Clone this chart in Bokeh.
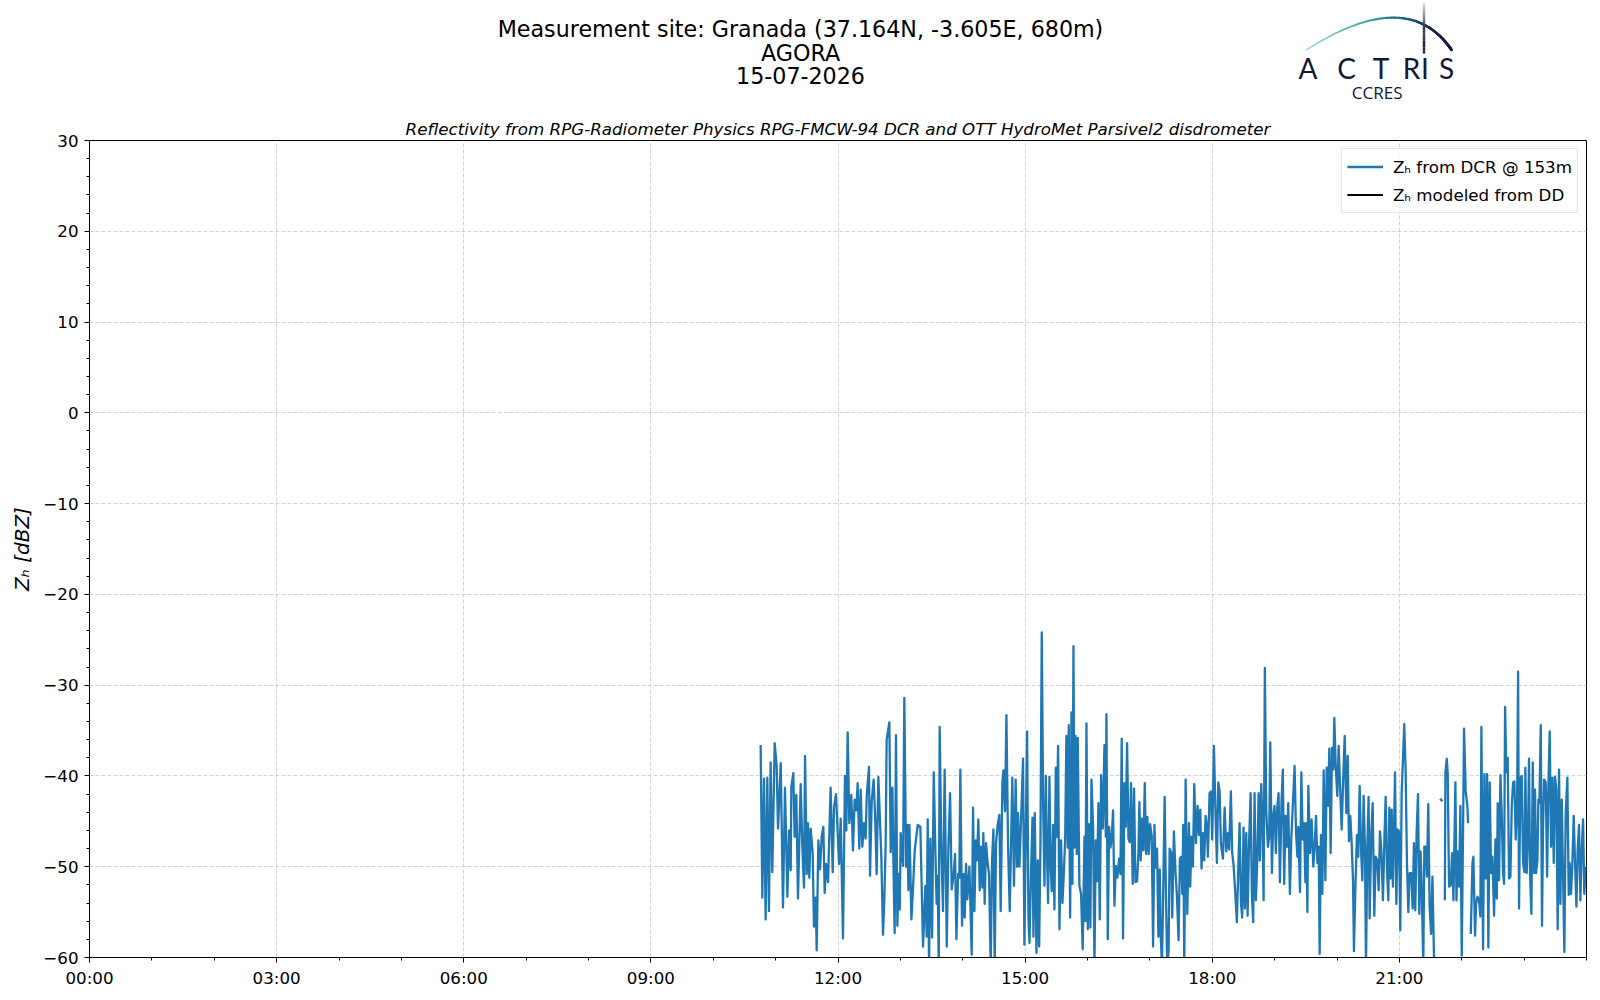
import numpy as np
from bokeh.plotting import figure
from bokeh.models import Range1d, FixedTicker, Legend, LegendItem, ColumnDataSource
from bokeh.layouts import column
from bokeh.embed import file_html
from bokeh.resources import INLINE
from bokeh.core.properties import value

# ---------------- texts ----------------
suptitle_lines = ["Measurement site: Granada (37.164N, -3.605E, 680m)", "AGORA", "15-07-2026"]
subtitle = "Reflectivity from RPG-Radiometer Physics RPG-FMCW-94 DCR and OTT HydroMet Parsivel2 disdrometer"
y_label = "Zₕ [dBZ]"
legend_labels = ["Zₕ from DCR @ 153m", "Zₕ modeled from DD"]
logo_letters = ["A", "C", "T", "R", "I", "S"]
logo_sub = "CCRES"

hour_ticks = [0, 3, 6, 9, 12, 15, 18, 21]
hour_labels = ["00:00", "03:00", "06:00", "09:00", "12:00", "15:00", "18:00", "21:00"]
zh_ticks = [-60, -50, -40, -30, -20, -10, 0, 10, 20, 30]
zh_labels = ["−60", "−50", "−40", "−30", "−20", "−10", "0", "10", "20", "30"]

# ---------------- data (minutes after midnight, dBZ) ----------------
t_1045 = [645.6, 647.2, 648.8, 650.4, 652.0, 653.6, 655.2, 656.8, 659.1, 661.0, 662.3, 664.9, 667.1, 669.0,
          671.3, 672.9, 674.5, 675.1, 677.0, 678.3, 679.9, 681.5, 684.1, 685.7, 687.3, 688.3, 689.9, 691.1,
          692.4, 693.7, 695.6, 696.9, 698.5, 699.5, 701.1, 702.7, 704.3, 705.9, 707.2, 708.5, 710.4, 712.9,
          714.9, 716.2, 718.1, 721.0, 722.6, 724.8, 726.7, 728.0, 729.3, 730.9, 732.8, 734.4, 736.0, 737.6,
          738.9, 740.5, 741.8, 743.4, 745.0, 746.6, 747.6, 749.8, 750.8, 752.4, 754.3, 755.9, 757.2, 758.8,
          760.4, 761.7, 763.3, 764.6, 765.8, 766.8]
zh_1045 = [-36.6, -53.4, -40.3, -55.8, -40.2, -54.9, -38.5, -50.6, -36.4, -38.9, -45.8, -38.6, -54.5, -41.3,
           -53.3, -46.0, -50.4, -41.2, -39.7, -46.7, -42.1, -53.5, -40.9, -47.8, -52.3, -37.8, -50.8, -45.2,
           -51.2, -45.8, -48.4, -56.6, -53.4, -59.2, -47.1, -50.3, -46.7, -45.6, -52.9, -49.7, -51.7, -41.3,
           -50.6, -43.4, -42.0, -49.7, -44.7, -57.9, -40.0, -46.0, -35.2, -45.2, -42.1, -48.2, -42.6, -43.8,
           -40.8, -48.0, -41.5, -47.8, -45.2, -46.9, -42.3, -39.0, -51.0, -42.8, -40.4, -45.1, -50.8, -40.1,
           -44.9, -49.0, -57.5, -53.4, -47.8, -36.0]

t_1249 = [769.4, 770.7, 772.3, 773.3, 774.5, 775.8, 777.1, 778.4, 779.4, 780.3, 781.6, 782.6, 783.8, 785.5,
          786.7, 787.7, 788.7, 790.6, 791.9, 793.8, 796.7, 799.2, 801.8, 804.0, 805.3, 806.3, 807.6, 808.9,
          810.5, 812.1, 813.7, 814.9, 815.9, 816.9, 817.8, 819.4, 821.0, 822.6, 824.6, 826.2, 827.8, 829.4,
          831.3, 832.6, 833.9, 835.5, 836.7, 837.7, 839.3, 840.9, 841.9, 843.2, 844.4, 846.4, 848.6, 849.9,
          851.2, 852.5, 853.7, 855.0, 856.3, 857.6, 858.9, 859.8, 861.1, 862.4, 864.0, 865.3, 866.9, 868.2,
          869.5, 870.7, 872.0, 873.6, 875.2, 876.5, 878.1, 879.1, 880.7, 882.0, 883.6, 885.2, 887.7, 889.3,
          890.9, 892.2, 893.2, 894.5, 896.1, 898.0, 899.3]
zh_1249 = [-34.1, -48.4, -41.3, -49.5, -57.3, -35.5, -56.5, -50.8, -54.7, -46.3, -48.6, -49.9, -31.4, -50.0,
           -45.4, -52.6, -45.4, -55.8, -53.0, -48.2, -45.4, -45.6, -58.8, -52.1, -57.7, -44.8, -61.0, -46.9,
           -57.8, -39.6, -48.4, -54.1, -51.0, -61.0, -34.6, -47.8, -54.9, -39.3, -58.8, -47.8, -41.9, -52.5,
           -50.8, -48.6, -58.0, -50.8, -51.2, -39.3, -56.5, -50.8, -55.6, -49.7, -53.6, -50.0, -59.7, -43.5,
           -54.9, -47.1, -49.3, -44.8, -52.6, -47.8, -52.3, -46.3, -54.1, -47.4, -49.7, -50.8, -61.0, -49.3,
           -45.9, -61.0, -47.4, -45.4, -44.3, -54.9, -40.8, -39.4, -43.9, -33.3, -47.8, -54.9, -40.2, -52.1,
           -40.4, -50.0, -44.1, -50.0, -44.8, -38.1, -58.6]

t_1500 = [900.6, 901.9, 903.2, 904.2, 905.8, 907.1, 908.0, 909.3, 910.9, 912.2, 913.5, 914.7, 916.0, 917.3,
          918.6, 919.9, 920.8, 922.1, 923.4, 924.4, 925.6, 926.9, 928.2, 929.5, 930.4, 931.7, 933.0, 934.6,
          935.9, 937.2, 938.5, 939.7, 941.0, 942.0, 943.3, 944.6, 945.5, 946.5, 947.4, 948.4, 949.7, 950.6,
          952.2, 953.8, 955.4, 957.1, 958.0, 959.0, 960.3, 961.5, 962.8, 963.8, 965.4, 966.7, 967.9, 969.2,
          970.5, 971.8, 973.1, 974.7, 976.3, 977.6, 978.2, 979.5, 980.8, 982.1, 983.3, 984.6, 985.9, 987.2,
          988.8, 990.4, 991.7, 992.9, 994.2, 995.5, 996.8, 998.1, 999.4, 1000.6, 1001.9, 1003.5, 1004.8,
          1006.1, 1007.7, 1009.0, 1009.9, 1011.2, 1012.5, 1013.8, 1015.1, 1016.3, 1017.6, 1018.9, 1020.2,
          1021.8, 1023.1, 1024.4, 1025.6, 1026.9, 1028.2, 1029.5]
zh_1500 = [-46.7, -35.1, -55.6, -58.4, -50.1, -44.6, -57.7, -44.1, -59.5, -49.3, -58.8, -47.9, -24.2, -42.9,
           -52.1, -40.0, -47.1, -54.0, -40.1, -49.3, -52.7, -45.4, -54.7, -39.1, -46.7, -36.7, -56.9, -47.1,
           -54.0, -50.8, -47.1, -35.6, -47.9, -34.4, -55.6, -33.0, -51.9, -25.7, -47.9, -35.6, -48.6, -35.8,
           -52.1, -53.0, -59.1, -46.7, -56.0, -34.2, -56.9, -45.3, -56.7, -40.4, -45.6, -61.0, -47.1, -51.6,
           -43.0, -55.8, -39.9, -45.8, -36.6, -46.7, -33.2, -58.0, -45.6, -47.9, -46.9, -43.8, -54.3, -49.9,
           -51.2, -49.1, -50.8, -35.9, -57.9, -40.8, -45.6, -36.4, -46.9, -47.3, -40.8, -51.9, -41.4,
           -51.7, -51.6, -48.4, -42.9, -49.3, -44.7, -48.2, -40.8, -48.6, -44.5, -48.6, -45.3,
           -46.6, -58.8, -45.4, -50.1, -48.0, -57.7, -50.3]

t_1710 = [1030.3, 1031.6, 1032.6, 1034.2, 1035.4, 1036.7, 1038.0, 1039.0, 1040.6, 1041.5, 1043.1, 1044.7,
          1046.0, 1047.6, 1048.9, 1050.2, 1051.2, 1052.1, 1053.1, 1054.4, 1056.0, 1057.6, 1058.8, 1060.1,
          1061.4, 1062.7, 1064.3, 1065.9, 1067.2, 1068.5, 1069.7, 1071.0, 1072.3, 1073.6, 1074.9, 1075.8,
          1077.4, 1078.7, 1080.0, 1081.6, 1083.2, 1084.5, 1085.8, 1087.1, 1088.3, 1090.3, 1091.9, 1093.5,
          1095.1, 1096.3, 1097.9, 1099.2, 1100.5, 1101.8, 1103.7, 1105.0, 1106.3, 1107.6, 1108.8, 1110.1,
          1111.4, 1112.7, 1114.0, 1115.3, 1116.9, 1118.1, 1119.4, 1120.7, 1122.0, 1123.3, 1124.6, 1125.8,
          1127.1, 1128.4, 1129.4, 1130.6, 1131.9, 1133.5, 1134.8, 1135.8, 1137.4, 1138.7, 1139.9, 1141.2,
          1142.5, 1143.8, 1145.1, 1146.7, 1147.9, 1149.2, 1150.5, 1151.8, 1153.1, 1154.7, 1156.0, 1157.6,
          1159.2]
zh_1710 = [-56.9, -61.0, -54.4, -42.3, -52.6, -61.0, -59.3, -48.0, -48.5, -55.6, -46.1, -50.7,
           -53.1, -58.1, -49.1, -48.9, -53.0, -45.4, -61.0, -40.4, -55.2, -45.2, -52.2, -46.7,
           -50.0, -40.9, -47.4, -43.3, -46.5, -43.7, -50.2, -46.3, -49.3, -44.4, -45.6, -48.9,
           -41.9, -41.7, -47.0, -36.7, -44.4, -49.6, -40.7, -41.7, -47.4, -49.1, -43.5, -48.3,
           -46.3, -48.1, -41.7, -48.5, -49.8, -52.2, -56.1, -50.4, -45.2, -53.9, -55.6, -45.7,
           -54.6, -46.3, -55.4, -47.8, -41.9, -53.0, -56.1, -41.9, -53.7, -49.4, -41.9, -49.3,
           -40.9, -45.6, -53.7, -28.1, -43.7, -47.8, -46.7, -36.3, -50.7, -44.4, -43.3, -48.5,
           -43.5, -41.9, -51.7, -42.6, -39.3, -51.9, -44.4, -47.8, -43.0, -53.0, -47.0, -43.0,
           -38.9]

t_1920 = [1160.6, 1161.9, 1162.8, 1164.4, 1165.7, 1167.0, 1168.3, 1169.6, 1170.5, 1171.5, 1172.4, 1174.0,
          1175.6, 1177.2, 1178.5, 1179.8, 1181.1, 1182.4, 1183.3, 1184.6, 1185.9, 1187.2, 1188.8, 1190.1,
          1191.3, 1192.6, 1193.9, 1195.2, 1196.5, 1197.4, 1198.7, 1200.3, 1201.6, 1203.2, 1204.5, 1205.8,
          1207.4, 1209.0, 1210.3, 1211.5, 1212.8, 1214.1, 1215.4, 1216.3, 1217.6, 1219.2, 1220.5, 1221.8,
          1223.4, 1224.4, 1225.6, 1226.9, 1227.9, 1229.2, 1230.4, 1231.4, 1233.0, 1234.3, 1235.9, 1237.2,
          1238.8, 1240.1, 1241.3, 1242.6, 1244.2, 1245.5, 1246.8, 1248.1, 1249.4, 1250.3, 1251.6, 1252.6,
          1253.8, 1254.8, 1255.8, 1257.1, 1258.3, 1259.6, 1260.9, 1262.2, 1263.5, 1264.7, 1266.0, 1267.3,
          1268.6, 1269.9, 1271.5, 1272.8, 1274.0, 1275.3, 1276.6, 1277.9, 1279.2, 1280.4, 1281.7, 1283.0,
          1284.0, 1285.3, 1286.5, 1287.8, 1289.1, 1290.5, 1291.8, 1293.4]
zh_1920 = [-46.3, -48.9, -45.6, -52.8, -39.6, -47.0, -45.2, -51.7, -45.2, -55.0, -41.1, -48.5,
           -44.8, -50.0, -47.8, -44.4, -49.6, -47.8, -59.6, -46.5, -53.0, -39.4, -51.5, -39.1,
           -43.3, -37.0, -48.5, -36.9, -39.3, -33.6, -38.7, -42.2, -36.7, -41.9, -45.9, -40.9,
           -35.6, -44.1, -37.8, -47.2, -44.4, -47.4, -51.5, -59.3, -52.6, -46.5, -48.9, -41.1,
           -48.9, -51.5, -42.2, -47.8, -61.0, -47.8, -42.3, -55.7, -46.3, -43.0, -55.4, -48.9,
           -49.3, -52.6, -46.1, -48.1, -53.7, -47.4, -42.3, -50.4, -53.7, -43.5, -51.3, -43.7,
           -52.2, -46.5, -39.6, -54.1, -45.9, -46.1, -57.0, -41.9, -38.0, -34.3, -39.3, -49.6,
           -55.0, -50.7, -50.7, -54.6, -47.4, -54.8, -46.3, -42.0, -55.2, -48.3, -53.3, -61.0,
           -47.8, -47.8, -51.1, -43.1, -54.4, -57.4, -51.1, -60.5]

t_2139 = [1299.2, 1301.4]
zh_2139 = [-42.5, -42.8]

t_2143 = [1303.7, 1304.3, 1305.6, 1306.5, 1307.8, 1309.4, 1310.7, 1312.0, 1313.9, 1314.9, 1316.2, 1317.4,
          1318.7, 1320.0, 1321.3, 1322.2, 1323.8, 1325.4, 1326.1]
zh_2143 = [-53.7, -39.6, -38.1, -39.8, -52.2, -52.0, -48.5, -53.7, -40.7, -53.7, -48.3, -52.2,
           -43.3, -59.8, -45.6, -34.8, -41.7, -43.3, -45.2]

t_2208 = [1328.7, 1330.3, 1331.2, 1332.8, 1333.8, 1335.1, 1336.7, 1337.9, 1338.9, 1340.5, 1341.8, 1343.1,
          1344.4, 1345.6, 1346.9, 1348.2, 1349.5, 1351.1, 1352.4, 1353.7, 1354.6, 1355.9, 1357.2, 1358.5,
          1359.7, 1360.7, 1361.7, 1362.9, 1364.2, 1365.5, 1366.8, 1368.1, 1369.4, 1370.6, 1371.9, 1373.2,
          1374.2, 1375.1, 1376.4, 1377.7, 1379.0, 1380.3, 1381.2, 1382.5, 1383.8, 1384.7, 1385.7, 1387.0,
          1388.3, 1389.6, 1390.5, 1391.5, 1392.8, 1393.7, 1394.7, 1396.0, 1397.2, 1398.2, 1399.2, 1400.8,
          1402.1, 1403.3, 1404.6, 1405.9, 1407.2, 1408.5, 1409.7, 1411.0, 1412.3, 1413.6, 1414.9, 1416.2,
          1417.4, 1418.7, 1420.0, 1421.6, 1422.9, 1423.8, 1425.1, 1426.4, 1427.7, 1429.0, 1430.3, 1431.5,
          1432.8, 1434.1, 1435.4, 1436.7, 1437.9, 1439.2]
zh_2208 = [-57.4, -49.6, -48.9, -57.6, -54.1, -53.3, -53.7, -55.5, -34.6, -59.1, -39.8, -51.3,
           -39.8, -58.9, -40.7, -50.7, -48.9, -55.4, -47.0, -53.5, -43.0, -51.5, -39.9, -44.4,
           -50.7, -51.9, -32.4, -39.6, -38.0, -51.3, -51.1, -43.3, -40.7, -40.6, -47.0, -43.5,
           -28.5, -54.6, -40.2, -40.0, -49.6, -50.6, -39.1, -50.7, -46.1, -38.1, -50.7, -55.2,
           -38.5, -50.7, -41.5, -50.7, -49.3, -42.6, -43.0, -34.4, -56.5, -45.6, -40.4, -40.7,
           -51.1, -41.3, -35.1, -47.8, -40.2, -49.6, -40.1, -41.5, -56.9, -39.3, -54.1, -42.6,
           -50.7, -59.4, -44.1, -40.2, -53.1, -49.6, -53.0, -49.6, -44.4, -49.6, -54.4, -48.1,
           -45.4, -53.7, -48.1, -44.8, -53.0, -50.0]

# modeled reflectivity from the disdrometer: no valid value on this day
t_dd = [np.nan]
zh_dd = [np.nan]

# ---------------- assemble (NaN between data gaps) ----------------
segments = [
    (t_1045 + t_1249 + t_1500 + t_1710 + t_1920, zh_1045 + zh_1249 + zh_1500 + zh_1710 + zh_1920),
    (t_2139, zh_2139),
    (t_2143, zh_2143),
    (t_2208, zh_2208),
]
hrs, zh = [], []
for i, (t, z) in enumerate(segments):
    if i > 0:
        hrs.append(np.nan)
        zh.append(np.nan)
    hrs.extend([m / 60.0 for m in t])
    zh.extend(z)
src_dcr = ColumnDataSource(dict(x=np.array(hrs, dtype=float), y=np.array(zh, dtype=float)))
src_dd = ColumnDataSource(dict(x=np.array(t_dd, dtype=float) / 60.0, y=np.array(zh_dd, dtype=float)))

FONT = "DejaVu Sans"
W = 1600
BL, BR = 89, 14          # left / right borders shared by both stacked figures

# ---------------- header (suptitle + logo); data units = page pixels ----------------
HH = 110
hdr = figure(width=W, height=HH, x_range=Range1d(BL, W - BR), y_range=Range1d(HH, 0),
             toolbar_location=None, output_backend="svg",
             min_border_left=BL, min_border_right=BR, min_border_top=0, min_border_bottom=0,
             x_axis_location=None, y_axis_location=None)
hdr.xgrid.visible = False
hdr.ygrid.visible = False
hdr.outline_line_color = None

for line_txt, ypos in zip(suptitle_lines, [28.6, 52.0, 74.5]):
    hdr.text(x=[800], y=[ypos], text=[line_txt], text_font=value(FONT), text_font_size="22.2px",
             text_align="center", text_baseline="middle", text_color="black")

def lerp_color(stops, t):
    ts = [s[0] for s in stops]
    rgb = [tuple(int(s[1][k:k + 2], 16) for k in (1, 3, 5)) for s in stops]
    ch = [np.interp(t, ts, [c[j] for c in rgb]) for j in range(3)]
    return "#%02x%02x%02x" % tuple(int(round(c)) for c in ch)

# logo arc (quadratic bezier, gradient teal -> navy)
P0, P1, P2 = (1306.0, 49.3), (1406.7, -15.0), (1451.0, 49.3)
tt = np.linspace(0, 1, 60)
bx = (1 - tt) ** 2 * P0[0] + 2 * tt * (1 - tt) * P1[0] + tt ** 2 * P2[0]
by = (1 - tt) ** 2 * P0[1] + 2 * tt * (1 - tt) * P1[1] + tt ** 2 * P2[1]
arc_stops = [(0.0, "#8fd4cf"), (0.35, "#3aa0a6"), (0.6, "#1f5f7a"), (0.8, "#18254a"), (1.0, "#14163a")]
tm = (tt[:-1] + tt[1:]) / 2
hdr.segment(x0=bx[:-1], y0=by[:-1], x1=bx[1:], y1=by[1:],
            line_color=[lerp_color(arc_stops, v) for v in tm],
            line_width=list(1.2 + 1.8 * tm), line_cap="round")
# vertical stroke above the "I"
vy = np.linspace(2, 53, 25)
vm = (vy[:-1] + vy[1:]) / 2
hdr.segment(x0=[1423.5] * 24, y0=vy[:-1], x1=[1423.5] * 24, y1=vy[1:],
            line_color=[lerp_color([(2, "#e6e8f0"), (25, "#3a3d60"), (53, "#14163a")], v) for v in vm],
            line_width=2.5)
for letter, lx in zip(logo_letters, [1307.5, 1346, 1380.5, 1411, 1424.5, 1446]):
    hdr.text(x=[lx], y=[67.5], text=[letter], text_font=value("Lato"), text_font_size="28px",
             text_align="center", text_baseline="middle", text_color="#14163a")
hdr.text(x=[1376.7], y=[92.2], text=[logo_sub], text_font=value("Open Sans"), text_font_size="17px",
         text_align="center", text_baseline="middle", text_color="#14163a")

# ---------------- main plot ----------------
p = figure(width=W, height=884, x_range=Range1d(0, 24), y_range=Range1d(-60, 30),
           toolbar_location=None, output_backend="svg",
           min_border_left=BL, min_border_right=BR, min_border_top=30, min_border_bottom=37)
p.outline_line_color = "black"
p.outline_line_width = 1
p.outline_line_alpha = 1.0

p.title.text = subtitle
p.title.align = "center"
p.title.text_font = FONT
p.title.text_font_size = "16.7px"
p.title.text_font_style = "italic"
p.title.text_color = "black"
p.title.standoff = 4

r_dcr = p.line("x", "y", source=src_dcr, line_color="#1f77b4", line_width=2.3, line_join="round")
r_dd = p.line("x", "y", source=src_dd, line_color="black", line_width=2)

p.xaxis.ticker = FixedTicker(ticks=hour_ticks, minor_ticks=list(range(0, 25)))
p.xaxis.major_label_overrides = {t: l for t, l in zip(hour_ticks, hour_labels)}
p.yaxis.ticker = FixedTicker(ticks=zh_ticks, minor_ticks=list(range(-60, 31, 2)))
p.yaxis.major_label_overrides = {t: l for t, l in zip(zh_ticks, zh_labels)}

for ax in (p.xaxis[0], p.yaxis[0]):
    ax.axis_line_color = "black"
    ax.major_tick_line_color = "black"
    ax.minor_tick_line_color = "black"
    ax.major_tick_in = 0
    ax.major_tick_out = 5
    ax.minor_tick_in = 0
    ax.minor_tick_out = 3
    ax.major_label_text_font = FONT
    ax.major_label_text_font_size = "16.7px"
    ax.major_label_text_color = "black"
p.xaxis.major_label_standoff = 5
p.yaxis.major_label_standoff = 6

p.yaxis.axis_label = y_label
p.yaxis.axis_label_text_font = FONT
p.yaxis.axis_label_text_font_size = "20px"
p.yaxis.axis_label_text_font_style = "italic"
p.yaxis.axis_label_text_color = "black"
p.yaxis.axis_label_standoff = 6

for g in (p.xgrid[0], p.ygrid[0]):
    g.grid_line_color = "#d3d3d3"
    g.grid_line_dash = "4 2"
    g.grid_line_width = 1

legend = Legend(items=[LegendItem(label=legend_labels[0], renderers=[r_dcr]),
                       LegendItem(label=legend_labels[1], renderers=[r_dd])],
                location="top_right")
legend.label_text_font = FONT
legend.label_text_font_size = "16.7px"
legend.label_text_color = "black"
legend.glyph_width = 36
legend.glyph_height = 25
legend.label_height = 25
legend.label_standoff = 10
legend.padding = 5
legend.spacing = 3
legend.margin = 8
legend.border_line_color = "#cccccc"
legend.border_line_width = 1
legend.background_fill_color = "white"
legend.background_fill_alpha = 0.8
p.add_layout(legend)

layout = column(hdr, p, spacing=0)
open("out.html", "w").write(file_html(layout, INLINE))
